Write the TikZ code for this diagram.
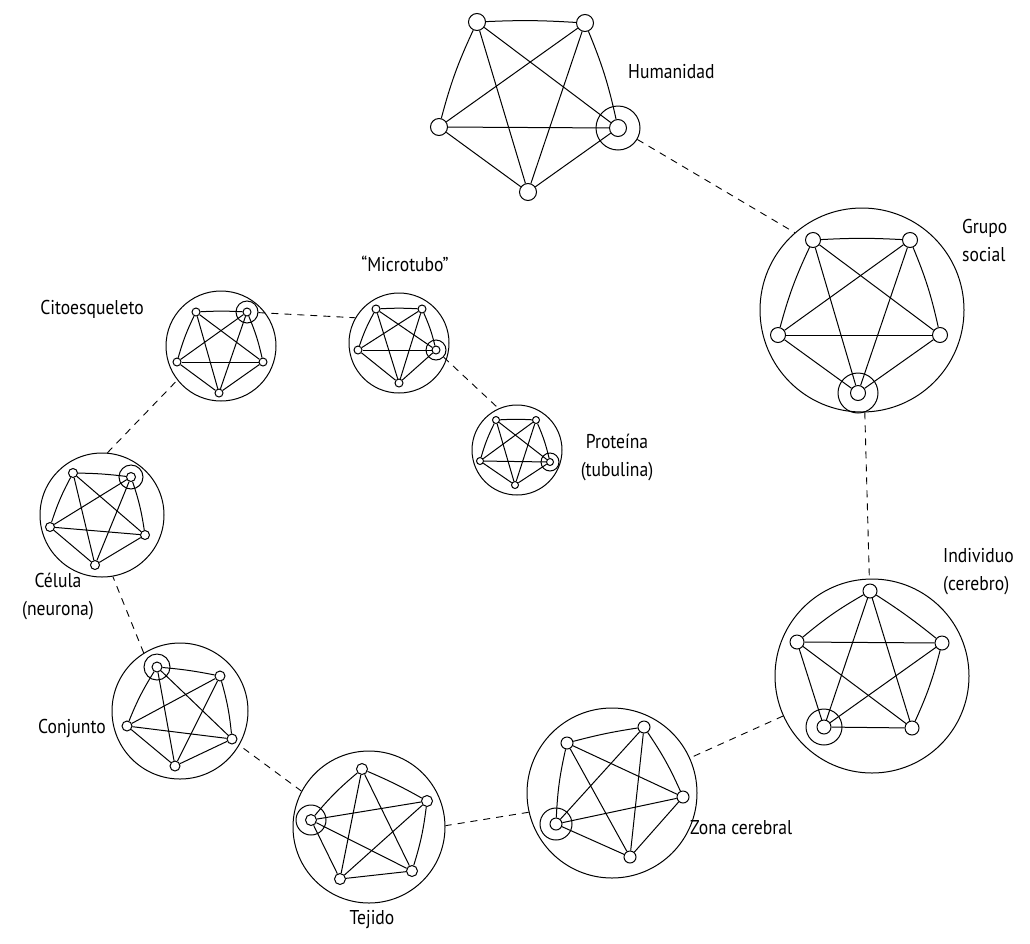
\documentclass[tikz,border=0pt]{standalone}
\usepackage{fontspec}
\setmainfont{PT Sans}[FakeStretch=0.88]
\begin{document}
\begin{tikzpicture}[x=1pt,y=-1pt,
  vtx/.style={circle,draw,fill=white,inner sep=0pt,minimum size=#1,line width=1pt},
  ringc/.style={circle,draw,inner sep=0pt,minimum size=#1,line width=1pt},
  bigc/.style={circle,draw,inner sep=0pt,minimum size=#1,line width=1pt},
  ln/.style={line width=1pt},
  dl/.style={line width=0.9pt,dash pattern=on 7pt off 6pt},
  lbl/.style={font=\fontsize{20}{28}\selectfont,inner sep=0pt,align=center}]
\useasboundingbox (0,0) rectangle (1030,943);
\newcommand\kfive[1]{%
  \foreach \i/\j in {1/3,1/4,2/4,2/5,3/5,3/4,4/5}{\draw[ln] (#1\i) -- (#1\j);}
  \draw[ln] (#11) to[bend left=3] (#12);
  \draw[ln] (#12) to[bend left=5] (#13);
  \draw[ln] (#15) to[bend left=5] (#11);}
% Humanidad
\node[vtx=17] (h1) at (477,22) {};
\node[vtx=17] (h2) at (585,23) {};
\node[vtx=17] (h3) at (618,128) {};
\node[vtx=17] (h4) at (528,192) {};
\node[vtx=17] (h5) at (439,127) {};
\node[ringc=44] (hr) at (h3) {};
\kfive{h}
% Grupo social
\node[bigc=204] (G) at (862,310) {};
\node[vtx=15] (g1) at (813,240) {};
\node[vtx=15] (g2) at (910,240) {};
\node[vtx=15] (g3) at (940,335) {};
\node[vtx=15] (g4) at (858,393) {};
\node[vtx=15] (g5) at (778,335) {};
\node[ringc=40] (gr) at (g4) {};
\kfive{g}
% Individuo
\node[bigc=194] (I) at (872,676) {};
\node[vtx=14] (i1) at (870,591) {};
\node[vtx=14] (i2) at (942,643) {};
\node[vtx=14] (i3) at (912,728) {};
\node[vtx=14] (i4) at (824,727) {};
\node[vtx=14] (i5) at (797,642) {};
\node[ringc=36] (ir) at (i4) {};
\kfive{i}
% Zona cerebral
\node[bigc=170] (Z) at (612,793) {};
\node[vtx=12] (z1) at (567,743) {};
\node[vtx=12] (z2) at (644,727) {};
\node[vtx=12] (z3) at (683,797) {};
\node[vtx=12] (z4) at (630,857) {};
\node[vtx=12] (z5) at (556,824) {};
\node[ringc=32] (zr) at (z5) {};
\kfive{z}
% Tejido
\node[bigc=152] (T) at (369,827) {};
\node[vtx=11] (t1) at (362,769) {};
\node[vtx=11] (t2) at (427,801) {};
\node[vtx=11] (t3) at (412,871) {};
\node[vtx=11] (t4) at (340,879) {};
\node[vtx=11] (t5) at (311,820) {};
\node[ringc=30] (tr) at (t5) {};
\kfive{t}
% Conjunto
\node[bigc=136] (J) at (180,711) {};
\node[vtx=10] (j1) at (157,667) {};
\node[vtx=10] (j2) at (220,676) {};
\node[vtx=10] (j3) at (232,739) {};
\node[vtx=10] (j4) at (175,766) {};
\node[vtx=10] (j5) at (127,726) {};
\node[ringc=26] (jr) at (j1) {};
\kfive{j}
% Celula
\node[bigc=124] (C) at (102,515) {};
\node[vtx=9] (c1) at (73,473) {};
\node[vtx=9] (c2) at (131,477) {};
\node[vtx=9] (c3) at (145,535) {};
\node[vtx=9] (c4) at (95,565) {};
\node[vtx=9] (c5) at (50,527) {};
\node[ringc=24] (cr) at (c2) {};
\kfive{c}
% Citoesqueleto
\node[bigc=110] (K) at (221,346) {};
\node[vtx=8] (k1) at (196,312) {};
\node[vtx=8] (k2) at (247,312) {};
\node[vtx=8] (k3) at (263,362) {};
\node[vtx=8] (k4) at (219,393) {};
\node[vtx=8] (k5) at (177,362) {};
\node[ringc=22] (kr) at (k2) {};
\kfive{k}
% Microtubo
\node[bigc=100] (M) at (399,343) {};
\node[vtx=8] (m1) at (376,309) {};
\node[vtx=8] (m2) at (422,309) {};
\node[vtx=8] (m3) at (436,350) {};
\node[vtx=8] (m4) at (399,383) {};
\node[vtx=8] (m5) at (358,350) {};
\node[ringc=20] (mr) at (m3) {};
\kfive{m}
% Proteina
\node[bigc=90] (P) at (517,450) {};
\node[vtx=7] (p1) at (496,420) {};
\node[vtx=7] (p2) at (536,420) {};
\node[vtx=7] (p3) at (550,462) {};
\node[vtx=7] (p4) at (515,485) {};
\node[vtx=7] (p5) at (480,461) {};
\node[ringc=18] (pr) at (p3) {};
\kfive{p}
% connectors
\draw[dl] (hr) -- (G.131);
\draw[dl] (G) -- (I);
\draw[dl] (I) -- (Z);
\draw[dl] (Z.193) -- (T.1);
\draw[dl] (T.152) -- (J.-30);
\draw[dl] (J.122) -- (C.-80);
\draw[dl] (C.85) -- (K.218);
\draw[dl] (kr) -- (M.150);
\draw[dl] (mr) -- (P.114);
% labels
\node[lbl,anchor=west] (lh) at (628,72) {Humanidad};
\node[lbl,anchor=west,align=left] (lg) at (962,240) {Grupo\\social};
\node[lbl,anchor=west,align=left] (li) at (943,572) {Individuo\\(cerebro)};
\node[lbl,anchor=west] (lz) at (690,828) {Zona cerebral};
\node[lbl] (lt) at (372,920) {Tejido};
\node[lbl] (lj) at (72,728) {Conjunto};
\node[lbl] (lc) at (58,596) {Célula\\(neurona)};
\node[lbl] (lk) at (92,309) {Citoesqueleto};
\node[lbl] (lm) at (405,264) {“Microtubo”};
\node[lbl] (lp) at (617,457) {Proteína\\(tubulina)};
\end{tikzpicture}
\end{document}
